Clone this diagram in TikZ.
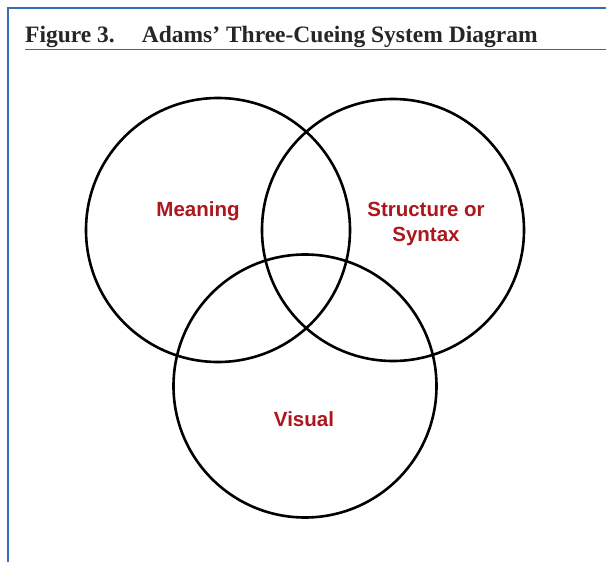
\documentclass[tikz,border=0pt]{standalone}
\usepackage{fontspec}
\setmainfont{Liberation Serif}
\newfontfamily\labelfont{Liberation Sans}
\definecolor{framblue}{RGB}{55,110,185}
\definecolor{rulegray}{RGB}{95,95,95}
\definecolor{labred}{RGB}{172,22,28}
\begin{document}
\begin{tikzpicture}[x=1pt,y=-1pt,
  venn/.style={draw=black,line width=2.6pt},
  lab/.style={text=labred,font=\labelfont\bfseries\fontsize{20.5}{25}\selectfont,align=center,inner sep=0pt},
  ttl/.style={font=\bfseries\fontsize{23.5}{26}\selectfont,inner sep=0pt,anchor=base west,text=black!85}]
\useasboundingbox (0,0) rectangle (606,562);
\fill[white] (0,0) rectangle (606,562);
% frame
\coordinate (fTL) at (8,8);
\coordinate (fTR) at (606,8);
\coordinate (fBL) at (8,562);
\draw[framblue,line width=1.5pt] (fTR) -- (fTL) -- (fBL);
% title
\node[ttl] (title) at (25,42) {Figure 3.\hspace{27pt}Adams’ Three-Cueing System Diagram};
\coordinate (rL) at (25,49.5);
\coordinate (rR) at (606,49.5);
\draw[rulegray,line width=1.8pt] (rL) -- (rR);
% circles
\node[venn,circle,minimum size=264pt,inner sep=0pt] (meaning) at (218,230) {};
\node[venn,circle,minimum size=262pt,inner sep=0pt] (structure) at (393,230) {};
\node[venn,circle,minimum size=263pt,inner sep=0pt] (visual) at (305,386) {};
% labels
\node[lab] (lm) at (198,211) {Meaning};
\node[lab] (ls) at (426,223.5) {Structure or\\Syntax};
\node[lab] (lv) at (304,419) {Visual};
\end{tikzpicture}
\end{document}
